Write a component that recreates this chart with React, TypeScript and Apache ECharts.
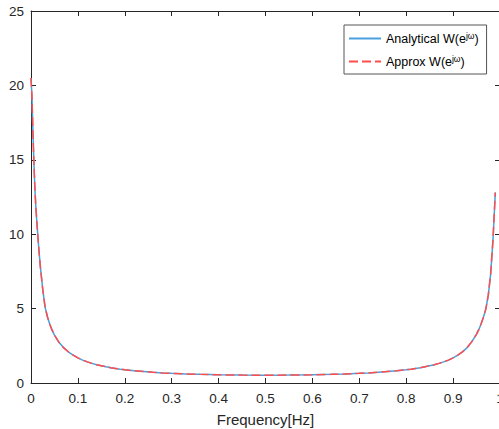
import React, { useEffect, useRef } from "react";
import * as echarts from "echarts";

// Frequency samples (Hz, normalized)
const freq = [
  0, 0.002, 0.004, 0.006, 0.008, 0.01, 0.0125, 0.015, 0.0175, 0.02, 0.025, 0.03, 0.035, 0.04, 0.045,
  0.05, 0.06, 0.07, 0.08, 0.09, 0.1, 0.11, 0.12, 0.13, 0.14, 0.15, 0.16, 0.17, 0.18, 0.19,
  0.2, 0.22, 0.24, 0.26, 0.28, 0.3, 0.33, 0.36, 0.4, 0.45, 0.5, 0.55, 0.6, 0.64, 0.67,
  0.7, 0.72, 0.74, 0.76, 0.78, 0.8, 0.81, 0.82, 0.83, 0.84, 0.85, 0.86, 0.87, 0.88, 0.89,
  0.9, 0.91, 0.92, 0.93, 0.94, 0.95, 0.955, 0.96, 0.965, 0.97, 0.975, 0.98, 0.985, 0.99,
];

// Analytical W(e^{jω}) values
const analyticalValues = [
  20.5, 19.3, 17.0, 15.0, 13.3, 12.0, 10.8, 9.7, 8.7, 7.8, 6.3, 5.1, 4.45, 3.95, 3.55,
  3.22, 2.72, 2.36, 2.08, 1.87, 1.69, 1.54, 1.42, 1.32, 1.23, 1.16, 1.09, 1.03, 0.98, 0.93,
  0.89, 0.82, 0.77, 0.72, 0.68, 0.65, 0.61, 0.58, 0.55, 0.53, 0.525, 0.53, 0.55, 0.58, 0.61,
  0.65, 0.68, 0.72, 0.77, 0.82, 0.89, 0.93, 0.98, 1.03, 1.09, 1.16, 1.23, 1.32, 1.42, 1.54,
  1.69, 1.87, 2.09, 2.38, 2.78, 3.28, 3.6, 4.0, 4.45, 5.0, 5.9, 7.3, 9.6, 12.8,
];

// Approx W(e^{jω}) values (overlaps the analytical curve)
const approxValues = [
  20.5, 19.3, 17.0, 15.0, 13.3, 12.0, 10.8, 9.7, 8.7, 7.8, 6.3, 5.1, 4.45, 3.95, 3.55,
  3.22, 2.72, 2.36, 2.08, 1.87, 1.69, 1.54, 1.42, 1.32, 1.23, 1.16, 1.09, 1.03, 0.98, 0.93,
  0.89, 0.82, 0.77, 0.72, 0.68, 0.65, 0.61, 0.58, 0.55, 0.53, 0.525, 0.53, 0.55, 0.58, 0.61,
  0.65, 0.68, 0.72, 0.77, 0.82, 0.89, 0.93, 0.98, 1.03, 1.09, 1.16, 1.23, 1.32, 1.42, 1.54,
  1.69, 1.87, 2.09, 2.38, 2.78, 3.28, 3.6, 4.0, 4.45, 5.0, 5.9, 7.3, 9.6, 12.8,
];

const seriesNames = ["Analytical", "Approx"];
const xAxisTitle = "Frequency[Hz]";

const FONT = "'Liberation Sans', Arial, Helvetica, sans-serif";
const AXIS_COLOR = "#262626";

export default function App() {
  const ref = useRef<HTMLDivElement>(null);

  useEffect(() => {
    if (!ref.current) return;
    const chart = echarts.init(ref.current, undefined, { renderer: "svg" });

    const axisCommon = {
      axisLine: { show: true, onZero: false, lineStyle: { color: AXIS_COLOR, width: 1 } },
      axisTick: { show: true, inside: true, length: 5, lineStyle: { color: AXIS_COLOR, width: 1 } },
      splitLine: { show: false },
    };

    chart.setOption({
      animation: false,
      backgroundColor: "#ffffff",
      grid: {
        left: 31,
        right: -1,
        top: 11,
        bottom: 46,
        containLabel: false,
        outerBoundsMode: "none",
      },
      xAxis: [
        {
          type: "value",
          min: 0,
          max: 1,
          interval: 0.1,
          position: "bottom",
          name: xAxisTitle,
          nameLocation: "middle",
          nameGap: 29,
          nameTextStyle: { fontSize: 15, color: AXIS_COLOR, fontFamily: FONT },
          ...axisCommon,
          axisLabel: {
            fontSize: 13.5,
            color: AXIS_COLOR,
            fontFamily: FONT,
            margin: 8,
            formatter: (v: number) => String(Number(v.toFixed(1))),
          },
        },
        {
          type: "value",
          min: 0,
          max: 1,
          interval: 0.1,
          position: "top",
          ...axisCommon,
          axisLabel: { show: false },
        },
      ],
      yAxis: [
        {
          type: "value",
          min: 0,
          max: 25,
          interval: 5,
          position: "left",
          ...axisCommon,
          axisLabel: { fontSize: 13.5, color: AXIS_COLOR, fontFamily: FONT, margin: 7 },
        },
        {
          type: "value",
          min: 0,
          max: 25,
          interval: 5,
          position: "right",
          ...axisCommon,
          axisLabel: { show: false },
        },
      ],
      legend: {
        orient: "vertical",
        left: 344,
        top: 25,
        padding: [6, 8, 5, 4],
        itemWidth: 32,
        itemHeight: 10,
        itemGap: 8,
        itemStyle: { opacity: 0 },
        backgroundColor: "#ffffff",
        borderColor: "#555555",
        borderWidth: 1,
        borderRadius: 0,
        data: seriesNames,
        formatter: (name: string) =>
          name === "Analytical" ? "{n|Analytical W(e}{s|jω}{n|)}" : "{n|Approx W(e}{s|jω}{n|)}",
        textStyle: {
          fontSize: 12.5,
          color: "#000000",
          fontFamily: FONT,
          lineHeight: 15,
          rich: {
            n: { fontSize: 12.5, lineHeight: 15, color: "#000000", fontFamily: FONT },
            s: { fontSize: 8.5, lineHeight: 8, verticalAlign: "top", color: "#000000", fontFamily: FONT },
          },
        },
      },
      series: [
        {
          name: seriesNames[0],
          type: "line",
          xAxisIndex: 0,
          yAxisIndex: 0,
          data: freq.map((f, i) => [f, analyticalValues[i]]),
          showSymbol: false,
          symbol: "none",
          smooth: false,
          lineStyle: { color: "#4a9fdd", width: 1.5, type: "solid" },
          itemStyle: { color: "#4a9fdd" },
        },
        {
          name: seriesNames[1],
          type: "line",
          xAxisIndex: 0,
          yAxisIndex: 0,
          data: freq.map((f, i) => [f, approxValues[i]]),
          showSymbol: false,
          symbol: "none",
          smooth: false,
          lineStyle: { color: "#ff4d4d", width: 1.5, type: [9, 4] },
          itemStyle: { color: "#ff4d4d" },
        },
      ],
    });

    return () => chart.dispose();
  }, []);

  return (
    <div
      ref={ref}
      style={{ position: "fixed", left: 0, top: 0, width: 499, height: 429, background: "#fff" }}
    />
  );
}
